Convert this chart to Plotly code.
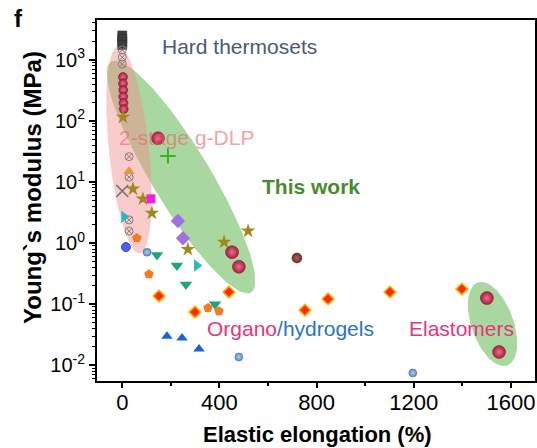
import numpy as np
import plotly.graph_objects as go

# ---------------- data (elongation %, modulus MPa) ----------------
hard_x = [0, 0, 0, 0]
hard_y = [2500, 2200, 1950, 1750]

cx_x = [0, 0, 0, 28, 28, 28, 28]
cx_y = [1450, 1100, 850, 26, 12, 2.4, 1.57]

gdlp_x = [3, 3, 4, 4, 5, 6]
gdlp_y = [522, 408, 320, 250, 196, 156]

work_x = [147, 452, 480, 1501, 1551]
work_y = [52, 0.71, 0.41, 0.126, 0.0165]

reddia_x = [151, 299, 439, 752, 847, 1102, 1398]
reddia_y = [0.136, 0.0745, 0.158, 0.080, 0.122, 0.158, 0.177]

brown_x = [719]
brown_y = [0.57]

bluesph_x = [102, 480, 1196]
bluesph_y = [0.71, 0.0137, 0.0075]

halfc_x = [15]
halfc_y = [0.86]

bluetri_x = [184, 246, 316]
bluetri_y = [0.030, 0.028, 0.0185]

tealdn_x = [143, 225, 262, 382]
tealdn_y = [0.64, 0.43, 0.21, 0.10]

tealrt_x = [7, 307]
tealrt_y = [2.7, 0.43]

pent_x = [60, 110, 353, 398]
pent_y = [1.21, 0.31, 0.087, 0.077]

otri_x = [28]
otri_y = [15]

star_x = [3, 44, 85, 122, 270, 419, 518]
star_y = [115, 7.7, 5.3, 3.1, 0.79, 1.04, 1.58]

mag_x = [118]
mag_y = [5.3]

purp_x = [229, 250]
purp_y = [2.3, 1.2]

xmark_x = [0]
xmark_y = [7.1]

plus_x = [188]
plus_y = [26.7]

x_ticks = [0, 400, 800, 1200, 1600]
y_ticks = [0.01, 0.1, 1, 10, 100, 1000]
y_ticktext = ["10<sup>-2</sup>", "10<sup>-1</sup>", "10<sup>0</sup>",
              "10<sup>1</sup>", "10<sup>2</sup>", "10<sup>3</sup>"]

# ---------------- layout geometry ----------------
X_RANGE = [-104, 1699]
Y_RANGE = [-2.257, 3.651]
W, H = 537, 448
ML, MR, MT, MB = 97, 2, 20, 67
PW, PH = W - ML - MR, H - MT - MB
sx = PW / (X_RANGE[1] - X_RANGE[0])
sy = PH / (Y_RANGE[1] - Y_RANGE[0])


def ellipse(cx, cy, a_px, b_px, ang_deg, n=120):
    t = np.linspace(0, 2 * np.pi, n)
    ang = np.radians(ang_deg)
    u = a_px * np.cos(t) * np.cos(ang) - b_px * np.sin(t) * np.sin(ang)
    v = a_px * np.cos(t) * np.sin(ang) + b_px * np.sin(t) * np.cos(ang)
    return cx + u / sx, 10 ** (np.log10(cy) + v / sy)


FONT = "Arial, Liberation Sans, sans-serif"
fig = go.Figure()

# ellipses
for (cx, cy, a, b, ang, col) in [
    (242, 12.08, 135, 29, -58.8, "rgba(81,177,65,0.5)"),
    (1524, 0.0474, 44, 21, -70.5, "rgba(81,177,65,0.5)"),
    (27.6, 33.4, 104, 20, -84, "rgba(245,140,140,0.45)"),
]:
    ex, ey = ellipse(cx, cy, a, b, ang)
    fig.add_trace(go.Scatter(x=ex, y=ey, mode="lines", fill="toself",
                             fillcolor=col, line=dict(width=0),
                             hoverinfo="skip", showlegend=False))


def pts(x, y, symbol, size, color, line_color=None, line_w=0, grad=None):
    m = dict(symbol=symbol, size=size, color=color,
             line=dict(color=line_color or color, width=line_w))
    if grad:
        m["gradient"] = dict(type="radial", color=grad)
    fig.add_trace(go.Scatter(x=x, y=y, mode="markers", marker=m,
                             showlegend=False))


pts(hard_x, hard_y, "square", 9, "#3c3c3c", "#2a2a2a", 0.5)
pts(cx_x, cx_y, "circle-x-open", 8, "#8a7a7a", line_w=1)
pts(gdlp_x, gdlp_y, "circle", 9, "#a81c40", "#80102c", 0.5, "#e8708a")
pts(reddia_x, reddia_y, "diamond", 9, "#ff2a00", "#ffb000", 1.5)
pts(brown_x, brown_y, "circle", 10, "#6e2e30", "#501818", 0.5, "#a86060")
pts(bluesph_x, bluesph_y, "circle", 8, "#5a88c8", "#3a68a8", 0.5, "#b0cdf0")
pts(halfc_x, halfc_y, "circle", 9, "#4a62e8", "#3048d0", 1)
pts(bluetri_x, bluetri_y, "triangle-up", 10, "#1f62d8")
pts(tealdn_x, tealdn_y, "triangle-down", 11, "#1ea47e")
pts(tealrt_x, tealrt_y, "triangle-right", 11, "#2ab8c6")
pts(pent_x, pent_y, "pentagon", 10, "#f57a20")
pts(otri_x, otri_y, "triangle-up", 10, "#e8963a")
pts(star_x, star_y, "star", 11, "#9e8a1e")
pts(mag_x, mag_y, "square", 9, "#f020d8")
pts(purp_x, purp_y, "diamond", 11, "#a070e0")
pts(xmark_x, xmark_y, "x-thin-open", 12, "#6e6e6e", line_w=1.5)
pts(plus_x, plus_y, "cross-thin-open", 11, "#3cb024", line_w=2)
pts(work_x, work_y, "circle", 13, "#a81c40", "#80102c", 0.5, "#e8708a")

# labels inside plot
labels = [
    ("Hard thermosets", 155, 1620, "#4b5a70", False),
    ("2-stage g-DLP", -22, 54.3, "rgba(238,96,104,0.6)", False),
    ("This work", 567, 8.28, "#4a8a2e", True),
    ("<span style='color:#e8347a'>Organo</span>/hydrogels", 340, 0.0407,
     "#2a74c4", False),
    ("Elastomers", 1172, 0.0394, "#e8347a", False),
]
ann = []
for txt, lx, ly, col, bold in labels:
    ann.append(dict(x=lx, y=np.log10(ly), xref="x", yref="y", text=txt,
                    showarrow=False, xanchor="left", yanchor="middle",
                    font=dict(family=FONT, size=21, color=col,
                              weight="bold" if bold else "normal")))

ann.append(dict(x=(12 - ML) / PW, y=(H - MB - 18) / PH, xref="paper",
                yref="paper", text="<b>f</b>", showarrow=False,
                xanchor="left", yanchor="middle",
                font=dict(family=FONT, size=24, color="black")))
ann.append(dict(x=(32 - ML) / PW, y=(H - MB - 188) / PH, xref="paper",
                yref="paper", text="<b>Young`s modulus (MPa)</b>",
                showarrow=False, textangle=-90, xanchor="center",
                yanchor="middle",
                font=dict(family=FONT, size=24, color="black")))
ann.append(dict(x=(317 - ML) / PW, y=(H - MB - 435) / PH, xref="paper",
                yref="paper", text="<b>Elastic elongation (%)</b>",
                showarrow=False, xanchor="center", yanchor="middle",
                font=dict(family=FONT, size=22, color="black")))

minor_y = [k * 10.0 ** e for e in range(-3, 4) for k in range(2, 10)]

fig.update_layout(
    template="none",
    width=W, height=H,
    margin=dict(l=ML, r=MR, t=MT, b=MB, autoexpand=False),
    paper_bgcolor="white", plot_bgcolor="white",
    annotations=ann,
    xaxis=dict(range=X_RANGE, tickmode="array", tickvals=x_ticks,
               automargin=False, ticklabelstandoff=-4,
               showgrid=False, zeroline=False, showline=True,
               linecolor="black", linewidth=2, mirror=True,
               ticks="outside", ticklen=5, tickwidth=1.5, tickcolor="black",
               tickfont=dict(family=FONT, size=22, color="black"),
               minor=dict(tickmode="array", tickvals=[200, 600, 1000, 1400],
                          ticks="outside", ticklen=3, tickwidth=1.5,
                          tickcolor="black", showgrid=False)),
    yaxis=dict(type="log", range=Y_RANGE, tickmode="array",
               tickvals=y_ticks, ticktext=y_ticktext,
               automargin=False,
               showgrid=False, zeroline=False, showline=True,
               linecolor="black", linewidth=2, mirror=True,
               ticks="outside", ticklen=6, tickwidth=1.5, tickcolor="black",
               tickfont=dict(family=FONT, size=20, color="black"),
               minor=dict(tickmode="array", tickvals=minor_y,
                          ticks="outside", ticklen=3, tickwidth=1,
                          tickcolor="black", showgrid=False)),
)

fig.write_html("out.html",
               config={"displayModeBar": False},
               post_script="document.body.style.margin='0';"
                           "document.body.style.overflow='hidden';")
